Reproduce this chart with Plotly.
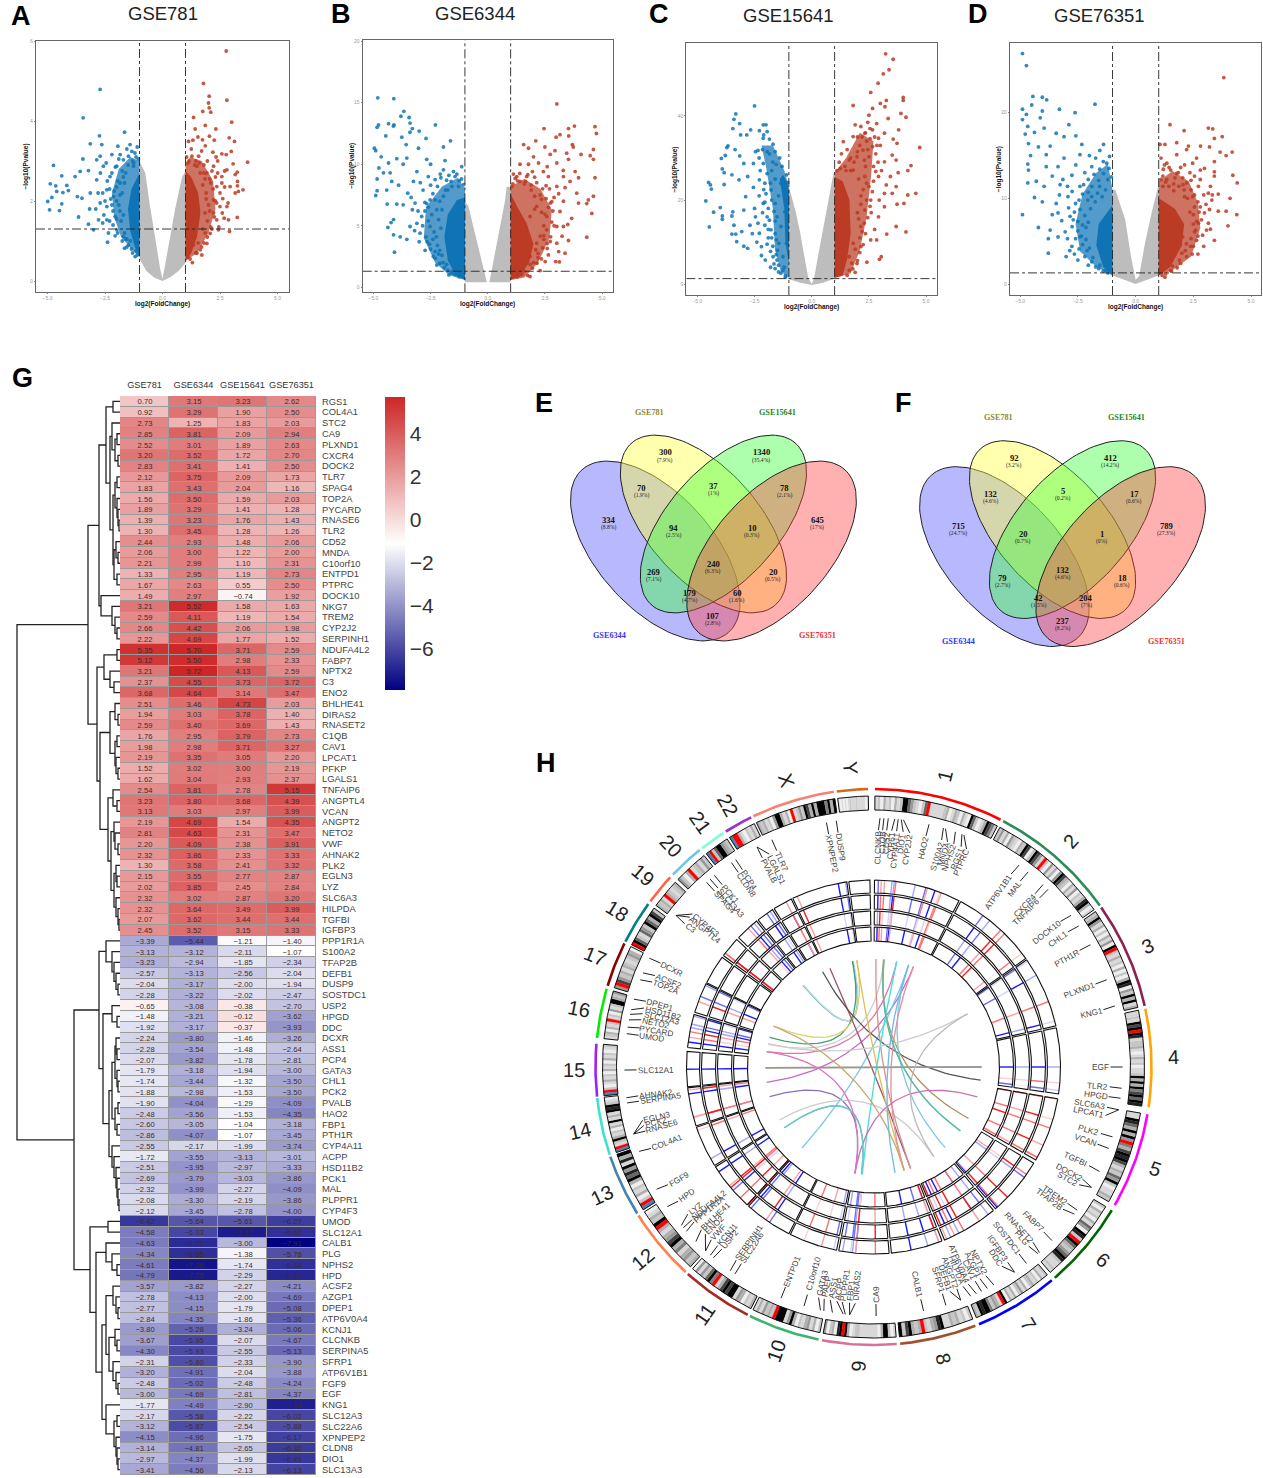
import numpy as np
import plotly.graph_objects as go

W, H = 1263, 1478
FONT = "Liberation Sans"

# ---------- heatmap data ----------
GENES = ["RGS1","COL4A1","STC2","CA9","PLXND1","CXCR4","DOCK2","TLR7","SPAG4","TOP2A","PYCARD","RNASE6","TLR2","CD52","MNDA","C10orf10","ENTPD1","PTPRC","DOCK10","NKG7","TREM2","CYP2J2","SERPINH1","NDUFA4L2","FABP7","NPTX2","C3","ENO2","BHLHE41","DIRAS2","RNASET2","C1QB","CAV1","LPCAT1","PFKP","LGALS1","TNFAIP6","ANGPTL4","VCAN","ANGPT2","NETO2","VWF","AHNAK2","PLK2","EGLN3","LYZ","SLC6A3","HILPDA","TGFBI","IGFBP3",
"PPP1R1A","S100A2","TFAP2B","DEFB1","DUSP9","SOSTDC1","USP2","HPGD","DDC","DCXR","ASS1","PCP4","GATA3","CHL1","PCK2","PVALB","HAO2","FBP1","PTH1R","CYP4A11","ACPP","HSD11B2","PCK1","MAL","PLPPR1","CYP4F3","UMOD","SLC12A1","CALB1","PLG","NPHS2","HPD","ACSF2","AZGP1","DPEP1","ATP6V0A4","KCNJ1","CLCNKB","SERPINA5","SFRP1","ATP6V1B1","FGF9","EGF","KNG1","SLC12A3","SLC22A6","XPNPEP2","CLDN8","DIO1","SLC13A3"]
DATASETS = ["GSE781","GSE6344","GSE15641","GSE76351"]
GSE781 = [.70,.92,2.73,2.85,2.52,3.20,2.83,2.12,1.83,1.56,1.89,1.39,1.30,2.44,2.06,2.21,1.33,1.67,1.49,3.21,2.59,2.66,2.22,5.35,5.12,3.21,2.37,3.68,2.51,1.94,2.59,1.76,1.98,2.19,1.52,1.62,2.54,3.23,3.13,2.19,2.81,2.20,2.32,1.30,2.15,2.02,2.32,2.32,2.07,2.45,
-3.39,-3.13,-3.23,-2.57,-2.04,-2.28,-.65,-1.48,-1.92,-2.24,-2.28,-2.07,-1.79,-1.74,-1.88,-1.90,-2.48,-2.60,-2.86,-2.55,-1.72,-2.51,-2.69,-2.32,-2.08,-2.12,-6.42,-4.58,-4.63,-4.34,-4.61,-4.79,-3.57,-2.78,-2.77,-2.84,-3.80,-3.67,-4.30,-2.31,-3.20,-2.48,-3.00,-1.77,-2.17,-3.12,-4.15,-3.14,-2.97,-3.41]
GSE6344 = [3.15,3.29,1.25,3.81,3.01,3.52,3.41,3.75,3.43,3.50,3.29,3.23,3.45,2.93,3.00,2.99,2.95,2.63,2.97,5.52,4.11,4.42,4.69,5.70,5.50,5.72,4.55,4.64,3.46,3.03,3.40,2.95,2.98,3.35,3.02,3.04,3.81,3.80,3.03,4.69,4.63,4.09,3.86,3.58,3.55,3.85,3.02,3.64,3.62,3.52,
-5.44,-3.12,-2.94,-3.13,-3.17,-3.22,-3.08,-3.21,-3.17,-3.80,-3.54,-3.82,-3.18,-3.44,-2.98,-4.04,-3.56,-3.05,-4.07,-2.17,-3.55,-3.95,-3.79,-3.99,-3.30,-3.45,-5.64,-6.03,-6.75,-6.65,-7.36,-7.25,-3.82,-4.13,-4.15,-4.35,-5.28,-5.95,-5.93,-5.80,-4.91,-5.02,-4.69,-4.49,-5.58,-5.87,-4.96,-4.81,-4.37,-4.56]
GSE15641 = [3.23,1.90,1.83,2.09,1.89,1.72,1.41,2.09,2.04,1.59,1.41,1.76,1.28,1.48,1.22,1.10,1.19,.55,-.74,1.58,1.19,2.06,1.77,3.71,2.98,4.13,3.73,3.14,4.73,3.78,3.69,3.79,3.71,3.05,3.00,2.93,2.78,3.68,2.97,1.54,2.31,2.38,2.33,2.41,2.77,2.45,2.87,3.49,3.44,3.15,
-1.21,-2.11,-1.85,-2.56,-2.00,-2.02,-.38,-.12,-.37,-1.46,-1.48,-1.78,-1.94,-1.32,-1.53,-1.29,-1.53,-1.04,-1.07,-1.99,-3.13,-2.97,-3.03,-2.27,-2.19,-2.78,-5.61,-7.17,-3.00,-1.38,-1.74,-2.29,-2.27,-2.00,-1.79,-1.86,-3.24,-2.07,-2.55,-2.33,-2.04,-2.48,-2.81,-2.90,-2.22,-2.54,-1.75,-2.65,-1.99,-2.13]
GSE76351 = [2.62,2.50,2.03,2.94,2.63,2.70,2.50,1.73,1.16,2.03,1.28,1.43,1.26,2.06,2.00,2.31,2.73,2.50,1.92,1.63,1.54,1.98,1.52,2.59,2.33,2.59,3.72,3.47,2.03,1.40,1.43,2.73,3.27,2.20,2.19,2.37,5.15,4.39,3.99,4.35,3.47,3.91,3.33,3.32,2.87,2.84,3.20,3.99,3.44,3.33,
-1.40,-1.07,-2.34,-2.04,-1.94,-2.47,-2.70,-3.62,-3.93,-3.26,-2.64,-2.81,-3.00,-3.50,-3.50,-4.09,-4.35,-3.18,-3.45,-3.74,-3.01,-3.33,-3.86,-4.09,-3.86,-4.00,-6.27,-6.62,-7.91,-5.78,-6.64,-6.87,-4.21,-4.69,-5.08,-5.36,-5.06,-4.67,-5.13,-3.90,-3.88,-4.24,-4.37,-7.08,-6.02,-5.88,-6.17,-6.32,-6.45,-6.13]

# dendrogram: (merge height, left, right), leaves are row numbers
T_U1 = (21,(14,(7,0,1),(10,(8,2,(5,(3,3,4),(2,5,6))),(7,(5,(3,7,8),(3,9,(2,10,(1,11,12)))),(6,(4,13,(2,14,15)),(3,16,17))))),(19,18,(8,19,(5,20,(3,21,22)))))
T_U2 = (23,(16,(3,23,24),(10,25,(6,26,27))),(20,(10,(5,28,(2,29,30)),(5,(3,31,32),(4,33,(2,34,35)))),(12,(7,36,(3,37,38)),(9,(6,39,(5,40,(2,41,42))),(6,(4,43,(3,44,45)),(4,46,(2,47,(1,48,49))))))))
T_D1 = (21,(14,50,(8,51,(6,52,(4,53,(2,54,55))))),(17,(8,56,(3,57,58)),(11,(8,(5,(4,59,(3,60,61)),(3,62,(2,63,64))),(5,(2,65,66),(3,67,68))),(8,69,(6,70,(4,71,(3,72,(2,73,(1,74,75)))))))))
T_D2 = (30,(12,76,77),(24,(14,78,(8,79,(3,80,81))),(18,(14,(7,82,(4,83,(2,84,85))),(11,(5,86,(3,87,88)),(7,89,(4,90,(2,91,92))))),(14,93,(6,(3,94,95),(4,96,(3,97,(2,98,99))))))))
T_ROOT = (103,(32,T_U1,T_U2),(46,T_D1,T_D2))

# ---------- volcano data: genes read individually ----------
A_DOWN = [(-2.71,4.79),(-3.45,4.08),(-1.65,3.72),(-2.74,3.63),(-3.14,3.43),(-2.64,3.41),(-1.94,3.37),(-1.41,3.41),(-3.46,3.05),(-4.74,2.89),(-2.71,3.12),(-2.2,3.16),(-1.84,3.16),(-2.86,3.03),(-4.38,2.63),(-3.8,2.61),(-3.58,2.74),(-3.22,2.76),(-4.88,2.43),(-4.64,2.38),(-4.16,2.39),(-4.09,2.26),(-4.6,2.24),(-4.33,2.21),(-4.81,2.09),(-4.99,1.99),(-4.38,1.93),(-4.91,1.78),(-4.48,1.76),(-3.65,1.6),(-3.7,2.11),(-3.5,2.07),(-3.14,2.2),(-3.17,1.8),(-3.22,1.42),(-3,1.28),(-2.39,.97),(-2.06,1.13),(-1.65,.82),(-2.78,1.53),(-2.42,1.53),(-2.71,1.95),(-2.42,1.86),(-2.86,2.53),(-2.57,2.87),(-2.28,2.61),(-1.99,2.87),(-2.42,2.28),(-2.13,2.11),(-2.06,1.61),(-1.99,1.28),(-1.7,1.11),(-1.48,.9),(-1.19,.61),(-1.84,2.45),(-1.7,3.03),(-1.48,3.12),(-1.33,3.24),(-1.26,2.87),(-2.2,1.9),(-2.0,2.35),(-1.8,1.5),(-1.9,1.9),(-1.75,2.2),(-1.6,2.7),(-2.3,2.3),(-2.6,2.2),(-2.55,1.65),(-2.15,1.4),(-1.65,1.2),(-1.55,1.05),(-1.35,.8),(-2.0,2.0),(-1.7,2.6),(-1.3,3.0),(-1.15,3.1),(-1.1,3.35),
(-1.5,2.9),(-1.75,2.75),(-1.95,2.5),(-2.1,2.25),(-2.25,2.05),(-2.15,1.75),(-2.3,1.5),(-1.95,1.2),(-1.75,1.0),(-1.55,.85),(-1.3,.7),(-1.1,.65),(-2.4,2.5),(-2.5,2.0),(-2.6,1.45),(-2.35,1.2),(-1.9,3.05),(-1.55,3.3),(-1.2,3.2),(-1.05,3.05),(-2.05,2.85),(-2.2,2.7),(-1.85,2.15),(-1.65,2.45),(-1.7,1.65),(-1.85,1.75),(-2.0,1.55),(-1.6,1.05),(-1.4,1.0),(-2.8,2.2),(-2.9,1.8),(-2.7,2.7),(-2.45,2.95),(-1.15,.75),(-1.25,2.95)]
A_UP = [(2.77,5.75),(1.78,4.94),(2.03,4.62),(2.8,4.52),(2.0,4.45),(2.03,4.33),(1.75,4.24),(2.1,4.22),(1.35,4.09),(3.01,3.97),(1.86,3.89),(2.32,3.8),(1.42,3.8),(2.9,3.58),(2.04,3.62),(1.54,3.6),(3.13,3.49),(1.13,3.49),(1.32,3.52),(1.74,3.53),(2.25,3.52),(1.86,3.38),(2.99,3.24),(2.19,3.22),(2.58,3.18),(2.77,3.16),(2.33,3.1),(3.7,2.97),(3.07,2.93),(1.28,3.12),(1.5,2.87),(3.25,2.72),(2.8,2.78),(3.16,2.66),(2.58,2.61),(3.26,2.49),(2.94,2.36),(3.26,2.38),(3.5,2.28),(3.16,2.2),(3.3,2.24),(2.62,2.06),(2.22,2.03),(3.25,1.59),(2.87,1.53),(2.68,1.57),(2.91,1.24),(2.43,1.28),(1.93,.94),(1.71,.65),(1.3,.46),(1.93,2.7),(2.36,2.36),(2.22,1.7),(2.5,1.86),(2.07,1.19),(2.8,1.86),(1.64,.78),(1.57,3.12),(2.22,2.87),(1.64,2.7),(2.58,2.45),(2.36,1.53),(1.86,1.2),(1.9,2.2),(2.1,2.45),(2.0,1.9),(2.3,2.0),(1.95,1.5),(1.85,2.55),(1.8,2.9),(2.4,2.7),(1.15,3.0),(1.05,3.1),(1.45,3.0),(2.1,1.35),(1.8,.95),(1.5,.7),
(1.6,2.95),(1.8,2.7),(2.05,2.55),(2.2,2.3),(2.35,1.95),(2.25,1.6),(2.15,1.3),(1.95,1.1),(1.7,.85),(1.45,.7),(1.2,.55),(2.5,2.2),(2.6,1.7),(2.45,1.35),(1.95,3.0),(1.7,3.25),(1.25,3.3),(1.1,2.95),(2.15,2.75),(2.3,2.6),(1.9,2.05),(1.75,2.4),(1.85,1.7),(2.05,1.75),(1.75,1.3),(1.55,.95),(1.35,.9),(2.7,2.35),(2.85,1.95),(2.7,2.75),(2.4,3.0),(1.1,.6),(1.4,2.9)]
B_DOWN = [(-4.81,15.4),(-4.11,15.33),(-3.67,14.3),(-3.44,13.8),(-3.8,13.9),(-2.29,13.2),(-4.78,13.2),(-4.84,13),(-4.34,13.3),(-4.1,13.2),(-4.13,13.1),(-3.4,13.35),(-3.3,12.9),(-3,12.7),(-3.4,12.6),(-4.46,12.3),(-3.76,12.2),(-2.7,12.1),(-1.63,11.9),(-4.96,11.3),(-4.9,11.1),(-3.57,11.6),(-3.03,11.3),(-1.94,11.4),(-4.66,10.6),(-3.98,10.45),(-3.54,10.5),(-4.34,10.1),(-2.67,10.4),(-1.87,10.3),(-4.76,9.7),(-1.14,9.8),(-3.7,10),(-2.5,10),(-4.56,9.3),(-4.27,9.3),(-3.1,9.4),(-2.08,9.2),(-1.5,9.4),(-4.84,8.8),(-4.2,8.6),(-3.25,8.6),(-2.3,8.75),(-3.9,8.3),(-4.42,7.9),(-4.84,7.85),(-4.9,7.46),(-2.83,7.9),(-3.5,7.65),(-4.4,6.76),(-3.98,6.76),(-3.7,6.7),(-3.3,6.3),(-2.67,6.8),(-4.12,5.5),(-4.23,5.26),(-4.37,4.86),(-3.4,4.94),(-4.12,4.26),(-3.83,4.1),(-3.54,3.9),(-4.08,2.85),(-2.74,3),(-2.38,2.5),(-2.23,1.8),(-2.96,4.4),(-2.52,4.94),(-2.89,5.75),(-3.18,6.84),(-2.23,6.3),(-2.52,7.1),(-1.94,7.4),(-2.2,8.2),(-1.8,8.7),(-1.57,8.2),(-1.43,9),(-1.94,9.55),(-1.28,8.2),(-2.6,5.4),(-2.35,4.5),(-2.15,5.5),(-2.05,4.8),(-2.75,6.2),(-2.4,7.6),(-2.1,7.0),(-1.75,7.9),(-2.2,3.4),(-2.0,2.6),(-2.3,2.9),(-1.75,1.4),(-1.6,1.15),(-2.65,3.7),(-3.1,5.2),(-3.35,7.3),(-2.95,8.5),(-2.6,9.0),
(-1.25,.85),(-1.45,1.05),(-1.7,1.0),(-1.9,1.6),(-2.1,1.95),(-2.3,2.35),(-2.5,3.1),(-2.7,4.1),(-2.85,5.0),(-2.75,6.9),(-2.5,8.3),(-2.05,8.9),(-1.7,9.1),(-1.35,9.2),(-1.15,8.8),(-1.05,8.35),(-2.1,3.0),(-2.25,4.1),(-2.45,5.9),(-2.3,7.1),(-2.0,6.3),(-2.15,2.7),(-1.95,2.0),(-1.8,1.85),(-1.55,1.3),(-1.35,1.0),(-2.55,3.5),(-2.4,3.9),(-2.6,6.5),(-1.85,7.9),(-1.6,8.6),(-1.25,8.65),(-3.0,3.7),(-3.2,4.6),(-3.05,6.2)]
B_UP = [(3.02,14.9),(2.46,12.9),(3.79,13.1),(3.53,12.9),(4.69,13.05),(4.75,12.5),(3.16,12.4),(2.99,12.2),(3.54,12.3),(2.1,11.9),(1.57,11.6),(3.7,11.6),(2.5,11.4),(1.78,11.3),(4.62,11.2),(3.74,11.4),(2.94,11.1),(3.45,10.9),(4.48,10.7),(4.08,10.8),(2.73,10.8),(2,10.6),(4.62,10.4),(3.53,10.4),(1.41,10),(1.78,10),(2.22,10.1),(2.43,9.4),(3.02,10.1),(3.82,9.4),(4.69,8.9),(1.12,9.2),(1.7,9),(2.65,9),(3.31,9),(3.97,8.9),(3.6,8.6),(1.41,8.6),(2.14,8.5),(3.02,8.2),(3.38,8.1),(3.89,7.65),(4.62,7.4),(4.4,7.1),(3.31,7),(4.33,6.8),(3.97,6.84),(2.73,6.84),(2.29,7.5),(3.16,6.16),(4.55,6),(3.67,5.6),(2.58,5.75),(2.14,6.57),(3.02,4.94),(4.33,4.07),(3.53,3.8),(2.73,3.72),(3.38,2.77),(2.97,2.09),(3.13,2.06),(2.65,2.63),(2.51,2.09),(2.29,1.36),(1.85,.87),(1.85,5.75),(2.58,4.67),(2.14,3.58),(1.85,2.5),(3.02,3.58),(3.31,4.94),(1.27,9),(1.05,8.2),(2.4,8),(2.7,8.0),(2.55,7.2),(2.9,7.3),(2.45,5.0),(2.35,6.1),(2.8,5.3),(2.4,3.2),(2.2,2.4),(2.45,4.2),(2.85,6.2),(3.1,7.6),(1.9,8.3),(1.6,8.4),(2.05,7.4),(1.95,9.4),(2.6,9.8),(3.3,9.5),
(1.3,.85),(1.5,1.05),(1.75,.95),(1.95,1.55),(2.15,1.95),(2.35,2.3),(2.6,3.15),(2.75,4.1),(2.9,5.0),(2.8,6.95),(2.55,8.25),(2.05,8.95),(1.75,9.15),(1.4,9.25),(1.2,8.85),(1.1,8.4),(2.1,3.05),(2.3,4.15),(2.5,5.95),(2.35,7.15),(2.05,6.35),(2.2,2.75),(2.0,2.0),(1.85,1.85),(1.6,1.3),(1.4,1.0),(2.6,3.55),(2.45,3.9),(2.65,6.5),(1.9,7.9),(1.65,8.6),(1.3,8.65),(3.1,2.9),(3.25,4.15),(3.5,5.1)]
C_DOWN = [(-2.5,42.4),(-3.32,40.5),(-3.4,39.2),(-3.15,38.2),(-2.12,37.9),(-2,37.9),(-3.45,37),(-2.67,36.7),(-2.29,36.5),(-1.95,36.3),(-3.11,35.5),(-2.84,35.5),(-2.12,34.7),(-3.66,32.9),(-3.71,32.5),(-3.35,32),(-1.69,33.3),(-3.95,29.9),(-3.78,30.6),(-3.15,30.5),(-2.46,31.5),(-1.95,31.5),(-2.97,28.7),(-3.49,26),(-3.91,27.4),(-3.83,26.5),(-3.18,24.8),(-4.51,24.2),(-4.43,23.6),(-4.39,22.6),(-3.83,23.7),(-4.63,19.8),(-4,18.2),(-4.29,17.1),(-3.45,17.2),(-3.91,16.2),(-3.49,16.2),(-3.91,15.4),(-4.48,13.6),(-3.4,14),(-3.49,11.9),(-3.32,11.9),(-3.28,10.1),(-2.97,9),(-2.8,8.5),(-2.89,20.8),(-2.97,17.6),(-3.06,12.5),(-2.46,16),(-2.12,19.2),(-2.29,24.8),(-2.8,25.6),(-2.55,28.7),(-2.29,12.1),(-2.2,8.9),(-2.03,5.7),(-1.6,3.7),(-1.69,6.5),(-1.78,12.9),(-1.95,16),(-1.6,19.2),(-1.78,22.4),(-1.95,26.3),(-2.12,28.7),(-1.44,9.7),(-1.26,6.5),(-1.52,5.7),(-1.35,13.7),(-1.52,16),(-1.26,3.3),(-1.18,17.2),(-1.1,9.7),(-1.85,31),(-1.7,29),(-1.6,25),(-1.75,20),(-2.3,21),(-2.5,18),(-2.7,14),(-2.05,14),(-1.9,11),(-1.6,12),(-1.7,9),(-1.5,8),(-1.8,4),(-1.35,2.6),(-1.2,4),(-1.15,2),(-2.15,32),(-2.3,30),(-2.05,24),(-2.0,21.5),(-2.55,23),
(-1.15,1.6),(-1.45,2.9),(-1.65,4.8),(-1.8,7.8),(-1.95,9.5),(-1.9,13),(-1.85,15.2),(-1.9,18),(-2.05,19.5),(-2.1,22.5),(-2.25,27),(-2.35,31.8),(-2.1,35.5),(-1.85,34.5),(-1.6,31.5),(-1.4,30),(-1.3,28),(-1.1,26),(-1.05,24.2),(-1.55,10.5),(-1.6,15),(-1.65,17.3),(-1.45,21),(-1.35,24),(-1.8,24),(-1.55,28.5),(-1.75,27),(-1.45,4.5),(-1.55,7),(-1.75,11),(-2.2,6.8),(-2.4,10),(-2.6,12),(-2.15,17),(-2.35,14.5)]
C_UP = [(3.23,54.8),(3.56,53.5),(3.38,51),(3.13,50),(2.9,47.8),(2.58,45.6),(4,44.4),(4,43.7),(3.26,43.7),(3,43),(1.81,42.5),(2.66,41.8),(3.2,42.2),(3.9,40.6),(4.12,39.7),(3.34,39.4),(2.5,40.2),(3.8,36.7),(1.9,37.9),(3.18,35.9),(2.92,34.7),(3.56,34.5),(3.73,33.5),(2.32,35.9),(1.81,35.1),(4.72,32.5),(1.38,33.9),(3.52,30.7),(3.69,29.5),(3.18,29.1),(4.34,28.2),(4.2,27),(3.78,26.5),(3.44,25.6),(2.92,25.6),(3.26,23.6),(3.69,23.2),(4.55,21.6),(4.2,21.2),(3.52,21.6),(3.18,21.6),(4.03,19.2),(3.73,19),(3.18,18.4),(2.58,20),(2.92,16),(3.69,13.7),(4.12,12.4),(3.28,11.9),(2.84,10.5),(2.58,10.5),(3.04,6.5),(2.96,5.9),(2.41,5.2),(2.15,8.9),(1.98,4.9),(1.64,3.3),(2.15,13.7),(2.32,17.6),(2.5,23.2),(2.32,25.6),(1.81,27.1),(1.98,30.3),(2.24,31.9),(1.64,29.5),(2.66,32.7),(2.5,30.3),(2.66,36.7),(2.84,38.2),(2.15,37.5),(1.81,9.7),(1.64,6.5),(2.1,33),(2.4,34),(2.35,28),(2.7,28),(2.05,25),(2.15,21),(2.4,20),(2.6,17),(2.0,17),(2.1,11),(2.35,12),(1.9,2.8),(1.7,30),(1.55,32),(1.3,31),(1.2,29),(1.45,28),(2.55,37),(2.45,38.5),(2.8,31),(3,33),(2.0,35),
(1.55,2.1),(1.8,3.6),(2.0,5.6),(2.1,7.5),(2.25,9.4),(2.3,14.5),(2.45,15.8),(2.55,18.5),(2.65,22),(2.7,24.5),(2.8,26.8),(2.9,29),(2.75,35),(2.55,34.6),(2.35,36),(2.2,35),(2.0,31.5),(1.85,29),(1.7,27),(1.5,27),(1.25,27.5),(1.1,27),(2.15,19),(2.25,22.5),(2.05,15.5),(2.2,12.5),(1.9,8.3),(1.75,5),(2.4,24),(2.3,29.5),(2.45,32),(2.85,33),(3.05,27),(2.95,20),(2.75,13)]
D_DOWN = [(-4.9,26.9),(-4.73,25.5),(-4.45,21.9),(-4.04,21.8),(-3.85,21.5),(-4.5,20.9),(-4.9,20.4),(-3.3,20.4),(-1.76,21),(-2.62,20),(-4.73,19.8),(-4.04,20.2),(-4.9,19.2),(-4.13,19.4),(-4.67,18.4),(-3.96,18.2),(-2.89,18.6),(-4.78,17.5),(-4.38,17.7),(-3.44,17.6),(-2.59,17.3),(-3.1,17.2),(-4.64,16.4),(-4.21,16),(-3.7,16.1),(-2.33,16.3),(-1.39,16.3),(-4.55,15),(-3.87,15.1),(-3.1,14.7),(-2.41,15.1),(-1.73,14.7),(-4.67,14),(-3.87,13.7),(-3.36,13.7),(-2.59,13.9),(-1.9,13.7),(-4.64,13.3),(-3.61,12.6),(-2.76,12.7),(-4.3,12),(-4.67,11.8),(-3.96,11.4),(-3.27,11.6),(-2.41,11.4),(-4.38,10.1),(-4.04,9.6),(-3.44,9.4),(-2.93,10.2),(-3.36,8.3),(-4.9,8.1),(-3.61,8.1),(-2.84,7.9),(-4.21,6.6),(-3.7,6.3),(-3.78,5.3),(-3.36,5.5),(-3.78,3.6),(-3.01,3.2),(-2.76,4.4),(-2.41,5.5),(-2.5,2.8),(-1.9,2.6),(-2.41,8.7),(-2.07,9.8),(-1.56,11.4),(-1.39,12.9),(-1.13,14.9),(-1.9,11.4),(-1.73,2),(-1.3,1.6),(-2.2,13),(-2.05,12.2),(-2.3,10.5),(-2.6,9.4),(-2.9,8.9),(-2.75,6.7),(-2.5,7.3),(-2.15,6.6),(-2.3,4.6),(-2.65,3.5),(-1.95,8.8),(-1.75,9.6),(-1.45,10.2),(-1.2,12.2),(-1.55,13.4),(-3.15,12.2),(-3.05,6.1),(-2.2,3.2),(-2.05,2.2),(-1.55,15.6),(-2.0,15),
(-1.4,1.5),(-1.6,1.8),(-1.85,3.1),(-2.1,3.9),(-2.45,4.1),(-2.6,5.3),(-2.7,7.5),(-2.65,8.4),(-2.45,9.8),(-2.25,11.6),(-2.05,10.7),(-1.8,12.8),(-1.4,14.3),(-1.15,13.5),(-1.05,12.5),(-1.3,11),(-1.65,10.6),(-2.2,8),(-2.05,7.2),(-2.3,6.9),(-2.35,5.6),(-2.15,5.2),(-2.0,4.2),(-1.2,1.3),(-1.55,2.2),(-2.5,6.2),(-1.9,10.2),(-1.6,12.1),(-1.25,14.1),(-2.75,10.8),(-2.95,11.4),(-2.95,5.3),(-3.2,7.4),(-3.3,10.4),(-2.85,3.9)]
D_UP = [(3.82,24.1),(1.49,18.6),(2.1,17.9),(3.15,18.2),(3.34,18.1),(3.41,17),(3.75,17.2),(1.78,16.5),(1.06,16.3),(1.27,16.3),(2.29,16.1),(2.81,16.1),(3.2,16),(2.21,15.7),(3.66,15.4),(4.18,15.4),(3.92,15),(1.1,14.7),(1.78,15.1),(2.64,14.7),(3.41,14.3),(1.35,14.1),(2.12,13.9),(2.47,14.1),(2.98,13.5),(3.41,13.1),(4.21,12.7),(3.41,12.6),(2.55,12.6),(1.78,12.9),(4.4,11.8),(3.24,11.4),(2.72,11.4),(2.21,11.8),(3.15,10.6),(3.32,10.4),(3.58,10.5),(4.09,10),(2.47,10.2),(3.58,8.5),(3.92,8.5),(4.38,8.1),(2.98,8.3),(2.72,7.1),(4,6.8),(3.15,7.1),(3.24,6.4),(3.07,6.3),(3.41,5.1),(2.64,5.1),(2.38,4.4),(2.21,3.2),(1.95,2.4),(1.52,1.6),(1.27,.8),(2.04,5.5),(1.52,13.3),(2.04,12.4),(1.18,12.6),(1.87,11.4),(1.44,11.4),(1.18,11.4),(2.55,9),(2.12,10.2),(2.8,12.2),(2.4,11),(2.1,11),(1.65,10.9),(2.7,9.6),(2.95,10.4),(2.35,13),(2.75,8.4),(2.6,6.3),(2.45,3.5),(1.8,1.9),(2.5,7),(2.8,13.3),(1.95,13.6),(1.35,12.2),
(1.3,1.2),(1.55,1.5),(1.9,2.8),(2.15,3.9),(2.5,4.4),(2.7,5.6),(2.85,7.5),(2.8,9.0),(2.55,10.4),(2.4,12.1),(2.05,11.6),(1.85,13.0),(1.45,13.6),(1.2,13.4),(1.1,12.2),(1.3,11.9),(1.65,11.7),(2.35,8.4),(2.5,8.1),(2.55,6.1),(2.4,5.3),(2.2,4.7),(2.0,3.6),(1.15,1.0),(1.6,2.1),(2.65,7.3),(2.25,10),(1.7,12.4),(1.25,13.9),(3.05,9.3),(3.2,8.7),(2.9,5.7),(2.95,4.4),(2.7,3.5),(3.3,9.8)]

# outlines of the saturated parts of each volcano (log2FC, -log10P)
A_GREY = [(-1,.55),(-.7,.25),(-.35,.08),(0,0),(.35,.1),(.7,.25),(1,.45),(1,2.75),(.85,2.6),(.55,1.8),(.3,1),(.1,.3),(0,.05),(-.1,.3),(-.3,1),(-.55,1.9),(-.75,2.7),(-1,3)]
A_CORE_D = [(-1,.6),(-1.2,.85),(-1.4,1.25),(-1.5,1.8),(-1.35,2.3),(-1.15,2.55),(-1,2.7)]
A_CORE_U = [(1,.5),(1.25,.7),(1.5,1.1),(1.65,1.7),(1.55,2.2),(1.25,2.6),(1,2.75)]
A_MID_D = [(-1,.6),(-1.35,.8),(-1.8,1.1),(-2.1,1.6),(-2.2,2.2),(-1.9,2.8),(-1.4,3.1),(-1,3.0)]
A_MID_U = [(1,.5),(1.5,.7),(2,1.2),(2.3,1.8),(2.2,2.5),(1.7,3),(1.2,3.1),(1,2.9)]
B_GREY = [(-1,.4),(-.04,.4),(-.85,6.6),(-1,7),None,(.07,.4),(1,.4),(1,8.1),(.83,8.2),(.75,7)]
B_CORE_D = [(-1,.6),(-1.4,1),(-1.75,2.2),(-1.9,4.1),(-1.75,5.9),(-1.35,7.1),(-1,7.3)]
B_CORE_U = [(1,.6),(1.4,.9),(1.8,2),(2.0,3.5),(1.7,5.2),(1.3,6.5),(1,7.6)]
B_MID_D = [(-1,.6),(-1.7,1),(-2.3,2),(-2.8,4),(-2.7,6.5),(-2.0,8.2),(-1.3,8.9),(-1,8)]
B_MID_U = [(1,.6),(1.6,.8),(2.2,2),(2.7,4),(2.8,6.3),(2.3,8),(1.6,8.8),(1,8.2)]
C_GREY = [(-1,23.2),(-.72,17.6),(-.53,12.9),(-.15,1.4),(0,0),(.1,1.3),(.27,6.5),(.6,16),(.95,26.3),(1,26.3),(1,1.3),(.5,.3),(0,-.2),(-.5,.3),(-1,1.2)]
C_CORE_D = [(-1,5),(-1.15,10),(-1.2,18),(-1.4,25),(-1.25,26),(-1.05,24),(-1,22)]
C_CORE_U = [(1,1.5),(1.35,2),(1.55,6),(1.7,12),(1.65,20),(1.35,24.5),(1,25.5)]
C_MID_D = [(-1,1.5),(-1.35,3),(-1.6,8),(-1.7,18),(-2,28),(-2.2,33),(-1.7,33),(-1.2,27),(-1,23)]
C_MID_U = [(1,1.5),(1.7,2.5),(2.1,8),(2.4,16),(2.6,26),(2.7,34),(2.1,36),(1.5,30),(1,26.5)]
D_GREY = [(-1,1),(-.5,.5),(0,0),(.5,.5),(1,1),(1,11.6),(.75,9),(.4,4.7),(.15,.9),(0,.5),(-.2,3.2),(-.45,7.5),(-.88,11),(-1,11)]
D_CORE_D = [(-1,1),(-1.4,2),(-1.7,4.5),(-1.6,7),(-1,9.2)]
D_CORE_U = [(1,1),(1.5,2),(2,4.5),(2.1,7),(1.7,8.8),(1,10)]
D_MID_D = [(-1,1),(-1.7,2),(-2.4,3.8),(-2.6,7),(-2.3,10.5),(-1.7,13),(-1.2,14),(-1,11)]
D_MID_U = [(1,1),(1.6,1.6),(2.4,3.2),(2.8,6.5),(2.7,9.5),(2.3,12),(1.6,13.2),(1,12)]

# ---------- Venn data ----------
VENN_E_COUNTS = ["300","1340","70","37","78","334","645","94","10","240","269","20","179","60","107"]
VENN_E_PCT = ["7.9%","35.4%","1.9%","1%","2.1%","8.8%","17%","2.5%","0.3%","6.3%","7.1%","0.5%","4.7%","1.6%","2.8%"]
VENN_F_COUNTS = ["92","412","132","5","17","715","789","20","1","132","79","18","42","204","237"]
VENN_F_PCT = ["3.2%","14.2%","4.6%","0.2%","0.6%","24.7%","27.3%","0.7%","0%","4.6%","2.7%","0.6%","1.5%","7%","8.2%"]

# ---------- circos data ----------
CHROMS = ["1","2","3","4","5","6","7","8","9","10","11","12","13","14","15","16","17","18","19","20","21","22","X","Y"]
CHROM_START = [.3,27.8,55,77.9,99.8,121,140.1,158.5,175.2,191.4,206.9,222.5,238.2,251.6,263.9,276,287,296.8,306.6,313.8,321.9,327.9,334.4,352.4]
CHROM_END = [27.2,54.5,77.3,98.3,119.8,139.3,157.7,174.5,190.7,206.4,221.9,237.7,251.2,263.6,274.8,286.3,296.4,305.9,313,321.3,327.3,333.9,351.8,358.9]
CHROM_COLOR = ["#ff0000","#2e8b57","#8b2252","#ffa500","#ff00ff","#006400","#0000ff","#a0522d","#d8709a","#3cb371","#a52a2a","#ff7f50","#4682b4","#40e0d0","#a020f0","#00ee00","#8b0000","#008080","#ff6347","#6ec6e6","#7fffd4","#9932cc","#fa8072","#d2691e"]
BANDS = ["8796879687003578973r8888876986796890379860247","7586957896702970258r795869502679685978610698","76058697968590r786879697960195706086","8878020r018776898687988706060420301",
"8801360605r46201026867350798867","79687968359017r0367530178878","7869786796857968690r86574001076","797867688015687r6760270","89700698888888778960r0196795","7968568796058000r7675868","68796580020268r40375859","6756846025686r07689",
"br7968796031508160","br8706879680868010789","br79868796879687987","8769687r87958700675","5r257686787569","r0378357036027","6768r67876","5796r876857","br7300567","brr6897868",
"6768795006869r8757026060004060","8989898788878888898"]
GENE_TICKS = [("CLCNKB",1.5,1.2),("C1QB",2.4,2.2),("CD52",3.4,3.2),("CYR61",4.9,4.4),("CYP4A11",5.7,5.6),("DIO1",6.4,7.2),("CYP2J2",6.9,8.8),("HAO2",12.9,12.8),("S100A2",16.3,16.7),("MNDA",16.8,18.2),("NPHS2",19.2,19.8),("RGS1",20.8,21.7),("PTPRC",21.3,23.1),
("ATP6V1B1",35.8,35.5),("MAL",38.4,38.3),("CXCR4",42.9,43),("TNFAIP6",44.5,44.5),("DOCK10",52.5,52.1),("CHL1",55.5,55.2),("PTH1R",60.6,60.5),("PLXND1",69.5,69.5),("KNG1",75.8,76),("EGF",90,90),("TLR2",94.9,94.8),("HPGD",97.2,97.2),("SLC6A3",99.9,99.8),("LPCAT1",99.9,101.8),("PLK2",106.3,106.3),("VCAN",109.1,109),("TGFBI",114.8,114.6),("DOCK2",118.9,118.2),("STC2",118.9,119.8),("TREM2",125.1,125.1),("TFAP2B",126.2,126.9),("FABP7",134.2,134.1),("RNASET2",138.2,137.7),("PLG",138.6,139.1),("SOSTDC1",142.1,142.1),("IGFBP3",145.5,145.5),("DDC",145.5,147.2),("NPTX2",151.1,151.7),("AZGP1",152.8,153.3),("CAV1",154.3,154.6),("ATP6V0A4",155.6,156.4),("HILPDA",157,157.8),("ANGPT2",159.5,159.4),("DEFB1",159.5,161.2),("SFRP1",163.1,163.1),("CALB1",168.4,168.5),
("CA9",179.4,179.4),("DIRAS2",185.5,184.4),("FBP1",185.5,185.8),("PLPPR1",186.5,187.6),("ACPP",187,188.9),("ASS1",189.5,190.5),("PAEP",191.5,192),("GATA3",192.3,193.4),("C10orf10",196.2,196.2),("ENTPD1",201.8,201.8),("SLC22A6",213.8,213.9),("SERPINH1",215.1,215.4),("USP2",220,219.8),("KCNJ1",220.9,221.1),("VWF",222.4,223.2),("ENO2",222.4,225.2),("BHLHE41",225.5,226.6),("PPP1R1A",228.7,229.2),("NDUFA4L2",229.8,229.9),("LYZ",230.5,231.6),("HPD",235.9,235.5),("FGF9",240.6,240.2),("COL4A1",250.2,249.9),("RNASE6",254.4,254.3),("PCK2",254.4,255.7),("EGLN3",254.4,257),("SERPINA5",261.7,261.7),("AHNAK2",262.9,263),("SLC12A1",269.3,269.3),("UMOD",277.7,277.7),("PYCARD",279.2,279.5),("NETO2",280.9,281.5),("SLC12A3",282.2,283),("HSD11B2",283.3,284.4),("DPEP1",285.8,286.1),("TOP2A",290.5,291),("ACSF2",292.2,292.7),("DCXR",295.9,296),("C3",307.5,307.2),("ANGPTL4",307.5,309.2),("CYP4F3",307.5,310.2),("SPAG4",317.9,317.9),("SLC13A3",319,319),("PCK1",320.3,320.3),("CLDN8",325.2,325.2),("PCP4",326.4,326.4),("PVALB",332.1,332),("LGALS1",332.1,333.9),("TLR7",335.9,335.9),("XPNPEP2",349.1,349.1),("DUSP9",351.4,351.4)]
LINK_A = [319.1,319.4,285.9,292.3,282.3,278.2,269.6,261.8,254.1,240.6,235.8,221.4,336.2,331.9,351,1.3,5.3,5.6,12.4,19,21.7,60.5,90,106,163.5,186.3,146.1,189.9,168.5,126.4]
LINK_B = [348.9,349.3,348.7,351.3,5.6,12.4,90,21.7,189.9,146.1,186.3,19,159.9,97,163.5,159.9,118.4,126.4,186,138.3,163.5,282.3,269.6,189.9,292.3,235.8,60.5,278.2,19,5.6]
LINK_COLOR = ["#45b5b5","#bcd8dc","#3f9f77","#e3cf6c","#cccccc","#dd77aa","#8a8a70","#cc66cc","#8a6fc0","#cccccc","#5fa8a0","#7ec8e3","#a0506a","#555555","#d9c24f","#d89090","#b08f60","#a5d89b","#44dddd","#7ec8e3","#e090a0","#cccccc","#999999","#d070b0","#c8a56f","#6fc9c9","#bbbbbb","#e070c0","#6fb8e8","#50b8a8"]

# ================= helpers =================
def xd(a, b): return [a / W, b / W]
def yd(a, b): return [1 - b / H, 1 - a / H]
ann = []
def txt(px, py, s, size=10, color="#222", rot=0, bold=False, fam=FONT, xa="center"):
    ann.append(dict(x=px / W, y=1 - py / H, xref="paper", yref="paper", text=f"<b>{s}</b>" if bold else s,
                    showarrow=False, textangle=rot, xanchor=xa, yanchor="middle",
                    font=dict(size=size, color=color, family=fam)))

fig = go.Figure()
layout = dict(width=W, height=H, margin=dict(l=0, r=0, t=0, b=0, autoexpand=False), autosize=False, showlegend=False,
              paper_bgcolor="white", plot_bgcolor="rgba(0,0,0,0)", hovermode=False, font=dict(family=FONT))
shapes = []

# ================= volcanoes =================
VOL = [("A","GSE781",A_GREY,A_MID_D,A_MID_U,A_CORE_D,A_CORE_U,A_DOWN,A_UP,(36,289,41,292),(-5.5,5.5),(-.275,6.0),[0,2,4,6],163,14,21,16),
       ("B","GSE6344",B_GREY,B_MID_D,B_MID_U,B_CORE_D,B_CORE_U,B_DOWN,B_UP,(362.7,613.3,40,292.3),(-5.47,5.49),(-.41,20.1),[0,5,10,15,20],475,13,341,14),
       ("C","GSE15641",C_GREY,C_MID_D,C_MID_U,C_CORE_D,C_CORE_U,C_DOWN,C_UP,(686.4,937.3,43.3,295),(-5.48,5.49),(-2.6,57.3),[0,20,40],788,15,659,14),
       ("D","GSE76351",D_GREY,D_MID_D,D_MID_U,D_CORE_D,D_CORE_U,D_DOWN,D_UP,(1010,1261,43.3,295),(-5.44,5.43),(-1.28,28.1),[0,10,20],1099,16,978,14)]
BLUE, RED, GREY = "#0f74b5", "#bb3b24", "#bdbdbd"
def xy(pts):
    return [p[0] if p else None for p in pts], [p[1] if p else None for p in pts]
for i, (let, name, grey, md, mu, cd, cu, down, up, box, xr, yr, yt, tx, ty, lx, ly) in enumerate(VOL):
    n = i + 1
    xa, ya = ("x", "y") if n == 1 else (f"x{n}", f"y{n}")
    xk, yk = ("xaxis", "yaxis") if n == 1 else (f"xaxis{n}", f"yaxis{n}")
    tf = dict(size=5, color="#999", family=FONT)
    layout[xk] = dict(domain=xd(box[0], box[1]), range=list(xr), anchor=ya, showgrid=False, zeroline=False, showline=True,
                      mirror=True, linecolor="#666", linewidth=1.2, ticks="outside", ticklen=1, tickcolor="#888",
                      tickvals=[-5, -2.5, 0, 2.5, 5], ticktext=["−5.0", "−2.5", "0.0", "2.5", "5.0"], tickfont=tf)
    layout[yk] = dict(domain=yd(box[2], box[3]), range=list(yr), anchor=xa, showgrid=False, zeroline=False, showline=True,
                      mirror=True, linecolor="#666", linewidth=1.2, ticks="outside", ticklen=1, tickcolor="#888",
                      tickvals=yt, tickfont=tf)
    for pts, col, op in ((grey, GREY, 1), (md, BLUE, .72), (mu, RED, .72), (cd, BLUE, 1), (cu, RED, 1)):
        px_, py_ = xy(pts)
        rgb = tuple(int(col[k:k + 2], 16) for k in (1, 3, 5))
        fc = f"rgba({rgb[0]},{rgb[1]},{rgb[2]},{op})"
        fig.add_trace(go.Scatter(x=px_, y=py_, mode="lines", fill="toself", fillcolor=fc, line=dict(width=0, color=fc), xaxis=xa, yaxis=ya, hoverinfo="skip"))
    for pts, col in ((down, BLUE), (up, RED)):
        px_, py_ = xy(pts)
        fig.add_trace(go.Scatter(x=px_, y=py_, mode="markers", marker=dict(size=3.8, color=col, opacity=.85, line=dict(width=0)), xaxis=xa, yaxis=ya, hoverinfo="skip"))
    for v in (-1, 1):
        shapes.append(dict(type="line", xref=xa, yref=ya, x0=v, x1=v, y0=yr[0], y1=yr[1], line=dict(color="#222", width=.9, dash="dashdot")))
    shapes.append(dict(type="line", xref=xa, yref=ya, x0=xr[0], x1=xr[1], y0=1.3, y1=1.3, line=dict(color="#222", width=.9, dash="dashdot")))
    txt((box[0] + box[1]) / 2, box[3] + 12, "log2(FoldChange)", size=6.5, color="#111", bold=True)
    txt(box[0] - 11, (box[2] + box[3]) / 2, "−log10(Pvalue)", size=6.5, color="#111", rot=-90, bold=True)
    txt(tx, ty, name, size=18.5, color="#222")
    txt(lx, ly, let, size=27, color="#000", bold=True)
txt(22, 378, "G", size=27, color="#000", bold=True)
txt(544, 403, "E", size=27, color="#000", bold=True)
txt(903, 403, "F", size=27, color="#000", bold=True)
txt(546, 763, "H", size=27, color="#000", bold=True)

# ================= heatmap =================
Z = np.array([GSE781, GSE6344, GSE15641, GSE76351]).T
TXT = [[f"{v:.2f}".replace("-", "−") for v in row] for row in Z]
HX, HY = "x5", "y5"
layout["xaxis5"] = dict(domain=xd(120, 316), range=[-.5, 3.5], anchor=HY, side="top", showgrid=False, zeroline=False, ticks="",
                        tickvals=[0, 1, 2, 3], ticktext=DATASETS, tickfont=dict(size=9.2, color="#333", family=FONT), ticklabelstandoff=5)
layout["yaxis5"] = dict(domain=yd(396, 1475), range=[99.5, -.5], anchor=HX, side="right", showgrid=False, zeroline=False, ticks="",
                        tickvals=list(range(100)), ticktext=GENES, tickfont=dict(size=9.4, color="#444", family=FONT), ticklabelstandoff=5)
shapes.append(dict(type="rect", xref="x5 domain", yref="y5 domain", x0=0, x1=1, y0=0, y1=1, layer="below", fillcolor="#9a9a9a", line=dict(width=0)))
fig.add_trace(go.Heatmap(z=Z, x=[0, 1, 2, 3], y=list(range(100)), text=TXT, texttemplate="%{text}", textfont=dict(size=7.6, color="#3c2c2c", family=FONT),
                         xgap=1, ygap=1, zmin=-7.91, zmax=5.72, hoverinfo="skip", xaxis=HX, yaxis=HY,
                         colorscale=[[0, "#000080"], [.5, "#ffffff"], [1, "#cd2626"]],
                         colorbar=dict(x=385 / W, xanchor="left", xpad=0, y=1 - 397 / H, yanchor="top", ypad=0, lenmode="pixels", len=293,
                                       thicknessmode="pixels", thickness=20, outlinewidth=0, ticks="", tickvals=[4, 2, 0, -2, -4, -6],
                                       tickfont=dict(size=21, color="#333", family=FONT), ticklabelposition="outside")))
# dendrogram
layout["xaxis6"] = dict(domain=xd(0, 120), range=[120, 0], anchor="y6", visible=False)
layout["yaxis6"] = dict(domain=yd(396, 1475), range=[99.5, -.5], anchor="x6", visible=False)
dx, dy = [], []
def walk(node):
    if isinstance(node, int):
        return 0, node
    h, l, r = node
    hl, yl = walk(l)
    hr, yr_ = walk(r)
    dx.extend([hl, h, h, hr, None])
    dy.extend([yl, yl, yr_, yr_, None])
    return h, (yl + yr_) / 2
walk(T_ROOT)
fig.add_trace(go.Scatter(x=dx, y=dy, mode="lines", line=dict(color="#222", width=1.3), xaxis="x6", yaxis="y6", hoverinfo="skip"))

# ================= pixel overlay for Venn + circos =================
layout["xaxis7"] = dict(domain=[0, 1], range=[0, W], anchor="y7", visible=False, fixedrange=True)
layout["yaxis7"] = dict(domain=[0, 1], range=[H, 0], anchor="x7", visible=False, fixedrange=True)
def overlay(x, y, **kw):
    fig.add_trace(go.Scatter(x=x, y=y, xaxis="x7", yaxis="y7", hoverinfo="skip", **kw))

def ellipse(cx, cy, a, b, th):
    t = np.linspace(0, 2 * np.pi, 121)
    th = np.radians(th)
    u, v = a * np.cos(t), b * np.sin(t)
    return cx + u * np.sin(th) + v * np.cos(th), cy + u * np.cos(th) - v * np.sin(th)

SX, SY = 2.306, 3.0  # the Venn geometry below is measured on a 2.306 x 3 enlargement
VENN_POS = [(312,202),(533,202),(258,309),(423,302),(588,309),(183,405),(662,405),(332,429),(513,429),(423,537),(285,561),(561,561),(368,623),(478,623),(423,692)]
for ox, oy, cnts, pcts in ((0, 0, VENN_E_COUNTS, VENN_E_PCT), (349.1, 5.6, VENN_F_COUNTS, VENN_F_PCT)):
    bx, by = 530 + ox, 385 + oy
    ells = [(289, 498, 300, 145, 30, "rgba(85,85,255,.42)"), (400, 417, 297, 140, 30, "rgba(255,255,60,.42)"),
            (446, 417, 297, 140, -30, "rgba(60,255,60,.42)"), (557, 498, 300, 145, -30, "rgba(255,70,70,.42)")]
    for (c1, c2, a, b, th, col) in ells:
        ex, ey = ellipse(c1, c2, a, b, th)
        overlay((bx + ex / SX).tolist(), (by + ey / SY).tolist(), mode="lines", fill="toself", fillcolor=col, line=dict(color="#222", width=1))
    for (zx, zy), c, p in zip(VENN_POS, cnts, pcts):
        txt(bx + zx / SX, by + zy / SY, c, size=8.6, color="#111", fam="Liberation Serif", bold=True)
        txt(bx + zx / SX, by + zy / SY + 7.7, f"({p})", size=5.6, color="#222", fam="Liberation Serif")
    for (zx, zy), s, col in (((275, 81), "GSE781", "#8b8b2a"), ((570, 81), "GSE15641", "#228b22"), ((183, 752), "GSE6344", "#3333ff"), ((662, 752), "GSE76351", "#f03030")):
        txt(bx + zx / SX, by + zy / SY, s, size=8.2, color=col, fam="Liberation Serif", bold=True)

# ---- circos -----
CX, CY = 873.5, 1067
def P(r, a):
    a = np.radians(a)
    return CX + r * np.sin(a), CY - r * np.cos(a)
def arc(r, a0, a1):
    n = max(2, int(abs(a1 - a0) / .5) + 2)
    aa = np.linspace(a0, a1, n)
    return P(r, aa)
def sector(r0, r1, a0, a1):
    x0, y0 = arc(r1, a0, a1)
    x1, y1 = arc(r0, a1, a0)
    return list(x0) + list(x1) + [x0[0], None], list(y0) + list(y1) + [y0[0], None]

GREYS = {"0": "#000000", "1": "#222222", "2": "#444444", "3": "#666666", "4": "#808080", "5": "#999999", "6": "#b0b0b0", "7": "#c6c6c6", "8": "#d8d8d8", "9": "#eeeeee", "r": "#ff0000", "b": "#4682b4"}
bucket = {k: ([], []) for k in GREYS}
RI0, RI1 = 257, 271
for s, e, b in zip(CHROM_START, CHROM_END, BANDS):
    edges = np.linspace(s, e, len(b) + 1)
    for ch, a0, a1 in zip(b, edges[:-1], edges[1:]):
        sx, sy = sector(RI0, RI1, a0, a1)
        bucket[ch][0].extend(sx)
        bucket[ch][1].extend(sy)
for k, (bx_, by_) in bucket.items():
    overlay(bx_, by_, mode="lines", fill="toself", fillcolor=GREYS[k], line=dict(width=.3, color=GREYS[k]))

ox_, oy_ = [], []
for s, e in zip(CHROM_START, CHROM_END):
    sx, sy = sector(RI0, RI1, s, e)
    ox_ += sx; oy_ += sy
overlay(ox_, oy_, mode="lines", line=dict(color="#111", width=1))

for s, e, c, name in zip(CHROM_START, CHROM_END, CHROM_COLOR, CHROMS):
    ax_, ay_ = arc(278, s, e)
    overlay(list(ax_), list(ay_), mode="lines", line=dict(color=c, width=2.6))
    m = (s + e) / 2
    lx_, ly_ = P(300, m)
    rot = m - 90 if m < 180 else m + 90 - 360
    txt(lx_, ly_, name, size=20, color="#222", rot=rot)

# gene ticks + labels
tx_, ty_ = [], []
for g, a_o, a_i in GENE_TICKS:
    x0, y0 = P(249, a_o)
    x1, y1 = P(237, a_i)
    tx_ += [x0, x1, None]; ty_ += [y0, y1, None]
    w_ = len(g) * 4.8
    lx_, ly_ = P(234 - w_ / 2, a_i)
    rot = a_i - 90 if a_i < 178.5 else a_i + 90 - 360
    txt(lx_, ly_, g, size=8.3, color="#444", rot=rot)
overlay(tx_, ty_, mode="lines", line=dict(color="#222", width=1))

# four heat tracks, stripes coloured by the heatmap values
RINGS = [(174, 187), (158, 172), (142, 156), (126, 140)]
LEVELS = [(-99, -4, "#1a1aff"), (-4, -3, "#6c6cff"), (-3, -2, "#a5a5ff"), (-2, -1, "#d2d2ff"), (-1, 0.5, "#f0f0ff"),
          (.5, 1.5, "#ffd0d0"), (1.5, 2.5, "#ffa0a0"), (2.5, 3.5, "#ff7070"), (3.5, 99, "#ff1a1a")]
for lo, hi, col in LEVELS:
    sx_, sy_ = [], []
    for g, a_o, _ in GENE_TICKS:
        if g not in GENES:
            continue
        r_ = GENES.index(g)
        for ring, col_v in zip(RINGS, Z[r_]):
            if lo <= col_v < hi:
                x0, y0 = P(ring[0], a_o)
                x1, y1 = P(ring[1], a_o)
                sx_ += [x0, x1, None]; sy_ += [y0, y1, None]
    overlay(sx_, sy_, mode="lines", line=dict(color=col, width=1.4))
rx_, ry_ = [], []
for r0, r1 in RINGS:
    for s, e in zip(CHROM_START, CHROM_END):
        sx, sy = sector(r0, r1, s, e)
        rx_ += sx; ry_ += sy
overlay(rx_, ry_, mode="lines", line=dict(color="#111", width=1.1))

# central links
for a, b, c in zip(LINK_A, LINK_B, LINK_COLOR):
    x0, y0 = P(108, a)
    x2, y2 = P(108, b)
    t = np.linspace(0, 1, 41)
    bxs = (1 - t) ** 2 * x0 + 2 * t * (1 - t) * CX + t ** 2 * x2
    bys = (1 - t) ** 2 * y0 + 2 * t * (1 - t) * CY + t ** 2 * y2
    overlay(bxs.tolist(), bys.tolist(), mode="lines", line=dict(color=c, width=1.3))

layout["shapes"] = shapes
layout["annotations"] = ann
fig.update_layout(**layout)
fig.write_html("out.html", post_script="document.body.style.margin='0';document.documentElement.style.overflow='hidden';", config=dict(displayModeBar=False))
